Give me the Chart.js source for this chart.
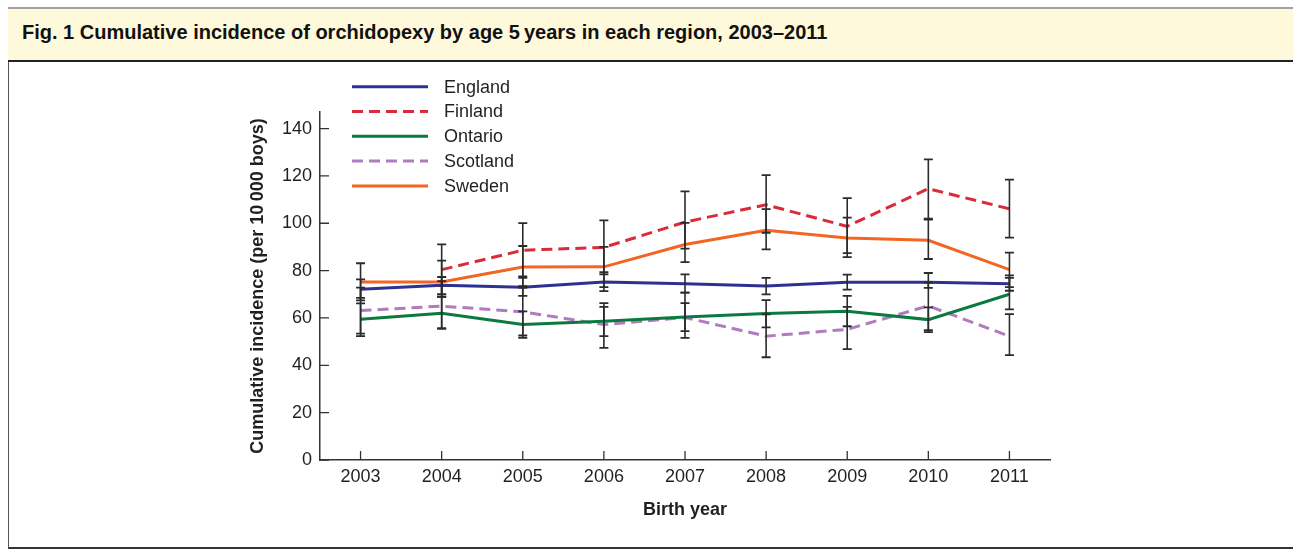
<!DOCTYPE html>
<html><head><meta charset="utf-8">
<script src="https://cdn.jsdelivr.net/npm/chart.js@4.4.1/dist/chart.umd.min.js"></script>
<style>
html,body{margin:0;padding:0;background:#fff;width:1293px;height:550px;overflow:hidden;font-family:"Liberation Sans",Arial,sans-serif;}
#frame{position:absolute;left:8px;top:8px;width:1300px;height:541px;border-left:1.5px solid #555;border-bottom:2px solid #333;box-sizing:border-box;}
#titlebar{position:absolute;left:8px;top:7px;width:1300px;height:55px;background:#fff9db;border-top:2px solid #a0a0a0;border-bottom:2px solid #222;box-sizing:border-box;}
#title{position:absolute;left:22px;top:21px;font-weight:bold;font-size:20px;color:#111;white-space:nowrap;line-height:22px;}
canvas{position:absolute;left:0;top:0;}
</style></head>
<body>
<div id="frame"></div>
<div id="titlebar"></div>
<div id="title">Fig. 1 Cumulative incidence of orchidopexy by age 5&#8201;years in each region, 2003&#8211;2011</div>
<canvas id="c" width="1293" height="550"></canvas>
<script>
// ---- data ----
const years = ['2003','2004','2005','2006','2007','2008','2009','2010','2011'];
const yTicks = [0, 20, 40, 60, 80, 100, 120, 140];

const england   = [72.1, 73.8, 73.0, 75.2, 74.5, 73.5, 75.1, 75.1, 74.5];
const englandLo = [68.5, 70.0, 69.3, 71.3, 70.7, 70.0, 72.0, 72.7, 71.5];
const englandHi = [76.3, 77.3, 76.9, 79.3, 78.4, 76.9, 78.3, 79.0, 78.0];

const finland   = [null, 80.4, 88.6, 89.8, 100.5, 107.8, 98.7, 114.6, 106.1];
const finlandLo = [null, 70.0, 77.6, 78.4, 89.3, 96.0, 87.4, 101.9, 93.9];
const finlandHi = [null, 91.1, 100.1, 101.2, 113.5, 120.3, 110.6, 127.0, 118.4];

const ontario   = [59.5, 62.0, 57.2, 58.6, 60.4, 61.9, 62.8, 59.3, 70.0];
const ontarioLo = [53.4, 55.7, 51.6, 52.3, 54.4, 56.0, 56.5, 54.8, 63.6];
const ontarioHi = [66.2, 68.9, 62.8, 64.7, 66.3, 67.5, 69.3, 64.5, 76.9];

const scotland   = [63.1, 65.0, 62.6, 57.2, 60.2, 52.3, 55.2, 65.1, 52.3];
const scotlandLo = [52.3, 55.4, 52.6, 47.4, 51.6, 43.4, 46.8, 54.0, 44.3];
const scotlandHi = [72.8, 75.6, 73.4, 66.3, 70.7, 61.5, 64.7, 74.9, 61.6];

const sweden   = [75.2, 75.2, 81.5, 81.6, 91.0, 97.0, 93.8, 92.8, 80.4];
const swedenLo = [67.4, 68.9, 72.8, 73.0, 83.6, 89.0, 85.7, 84.9, 73.0];
const swedenHi = [83.1, 84.2, 90.4, 90.0, 100.2, 106.0, 102.4, 101.5, 87.6];

const FONT = '"Liberation Sans", Arial, Helvetica, sans-serif';
Chart.defaults.font.family = FONT;
Chart.defaults.color = '#231f20';

const mk = (label, data, lo, hi, color, dash) => ({
  label, data, lo, hi,
  borderColor: color, backgroundColor: color,
  borderWidth: 3, borderDash: dash, pointRadius: 0, tension: 0, fill: false,
  spanGaps: false
});

const plugin = {
  id: 'custom',
  afterDatasetsDraw(chart) {
    const ctx = chart.ctx, xs = chart.scales.x, ys = chart.scales.y;
    ctx.save();
    ctx.strokeStyle = '#2b2b2b';
    chart.data.datasets.forEach(ds => {
      ds.lo.forEach((lo, i) => {
        const hi = ds.hi[i];
        if (lo == null || hi == null) return;
        const x = xs.getPixelForValue(i);
        const y1 = ys.getPixelForValue(lo), y2 = ys.getPixelForValue(hi);
        ctx.lineWidth = 1.6;
        ctx.beginPath(); ctx.moveTo(x, y1); ctx.lineTo(x, y2); ctx.stroke();
        ctx.lineWidth = 1.8;
        ctx.beginPath();
        ctx.moveTo(x - 4.5, y1); ctx.lineTo(x + 4.5, y1);
        ctx.moveTo(x - 4.5, y2); ctx.lineTo(x + 4.5, y2);
        ctx.stroke();
      });
    });
    ctx.restore();
  },
  afterDraw(chart) {
    const ctx = chart.ctx, xs = chart.scales.x, ys = chart.scales.y, ca = chart.chartArea;
    ctx.save();
    // inward tick marks
    ctx.strokeStyle = '#333'; ctx.lineWidth = 1.3;
    ctx.beginPath();
    yTicks.forEach(v => { const y = ys.getPixelForValue(v); ctx.moveTo(ca.left, y); ctx.lineTo(ca.left + 9, y); });
    years.forEach((l, i) => { const x = xs.getPixelForValue(i); ctx.moveTo(x, ca.bottom); ctx.lineTo(x, ca.bottom - 9); });
    ctx.stroke();
    // legend
    ctx.font = '18px ' + FONT;
    ctx.textBaseline = 'middle';
    ctx.fillStyle = '#231f20';
    chart.data.datasets.forEach((ds, i) => {
      const y = 86.7 + i * 24.8;
      ctx.strokeStyle = ds.borderColor; ctx.lineWidth = 3;
      ctx.setLineDash(ds.borderDash || []);
      ctx.beginPath(); ctx.moveTo(352, y); ctx.lineTo(428, y); ctx.stroke();
      ctx.setLineDash([]);
      ctx.fillText(ds.label, 444, y + 1);
    });
    ctx.restore();
  }
};

new Chart(document.getElementById('c'), {
  type: 'line',
  data: {
    labels: years,
    datasets: [
      mk('England', england, englandLo, englandHi, '#2e3192', []),
      mk('Finland', finland, finlandLo, finlandHi, '#d92b3a', [11, 6]),
      mk('Ontario', ontario, ontarioLo, ontarioHi, '#0a7a3e', []),
      mk('Scotland', scotland, scotlandLo, scotlandHi, '#b07cc0', [11, 6]),
      mk('Sweden', sweden, swedenLo, swedenHi, '#f26522', [])
    ]
  },
  options: {
    responsive: false,
    animation: false,
    layout: { padding: { left: 237, top: 112, right: 243, bottom: 0 } },
    plugins: { legend: { display: false }, tooltip: { enabled: false } },
    scales: {
      x: {
        type: 'category',
        offset: true,
        grid: { display: false, drawTicks: false },
        border: { display: true, color: '#333', width: 1.5 },
        ticks: { font: { size: 18 }, padding: 6, color: '#231f20', maxRotation: 0 },
        title: { display: true, text: 'Birth year', font: { size: 18, weight: 'bold' }, color: '#231f20', padding: { top: 0, bottom: 29 } },
        afterFit: s => { s.height = 90; }
      },
      y: {
        min: 0, max: 147,
        grid: { display: false, drawTicks: false },
        border: { display: true, color: '#333', width: 1.5 },
        ticks: { stepSize: 20, includeBounds: false, font: { size: 18 }, padding: 8, color: '#231f20' },
        title: { display: true, text: 'Cumulative incidence (per 10\u2009000 boys)', font: { size: 18, weight: 'bold' }, color: '#231f20', padding: { top: 10, bottom: 0 } },
        afterFit: s => { s.width = 83; }
      }
    }
  },
  plugins: [plugin]
});
</script>
</body></html>
